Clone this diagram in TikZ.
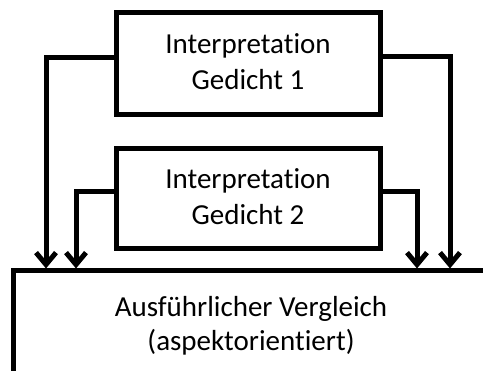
\documentclass[tikz,border=0pt]{standalone}
\usepackage{fontspec}
\setmainfont{Carlito}[Ligatures=NoCommon]
\usetikzlibrary{arrows.meta}
\begin{document}
\begin{tikzpicture}[x=1pt,y=-1pt,
  box/.style={draw=black, line width=5pt, rectangle, minimum width=264pt, inner sep=0pt, align=center, font=\fontsize{29}{36}\selectfont},
  bigbox/.style={draw=black, line width=5pt, rectangle, minimum width=476pt, minimum height=109pt, inner sep=0pt, align=center, font=\fontsize{29}{34}\selectfont},
  arr/.style={line width=5pt, -{Straight Barb[length=12pt,width=20pt]}}
]
\useasboundingbox (0,0) rectangle (483,371);
\node[box, minimum height=102pt] (g1) at (248,64) {Interpretation\\Gedicht 1\rule[-5.4pt]{0pt}{5.4pt}};
\node[box, minimum height=100pt] (g2) at (248,199) {Interpretation\\Gedicht 2\rule[-5.4pt]{0pt}{5.4pt}};
\node[bigbox] (v) at (251,325.5) {Ausführlicher Vergleich\\(aspektorientiert)};
\coordinate (cL1) at (46,0);
\coordinate (cL2) at (76,0);
\coordinate (cR2) at (417,0);
\coordinate (cR1) at (450,0);
\draw[arr] ([yshift=6pt]g1.west) -| (cL1 |- v.north);
\draw[arr] ([yshift=7pt]g1.east) -| (cR1 |- v.north);
\draw[arr] ([yshift=7pt]g2.west) -| (cL2 |- v.north);
\draw[arr] ([yshift=7pt]g2.east) -| (cR2 |- v.north);
\end{tikzpicture}
\end{document}
